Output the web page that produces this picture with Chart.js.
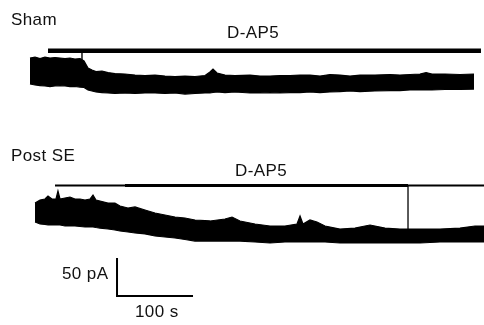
<!DOCTYPE html>
<html>
<head>
<meta charset="utf-8">
<script src="https://cdn.jsdelivr.net/npm/chart.js@4/dist/chart.umd.min.js"></script>
<style>
  body { margin: 0; background: #fff; }
  #wrap { position: relative; width: 484px; height: 325px; overflow: hidden; }
  #traces { position: absolute; left: 0; top: 0; }
  .lbl {
    position: absolute;
    font-family: "Liberation Sans", Arial, Helvetica, sans-serif;
    font-size: 17px;
    line-height: 17px;
    letter-spacing: 0.4px;
    color: #111;
    white-space: nowrap;
  }
</style>
</head>
<body>
<div id="wrap">
  <canvas id="traces" width="484" height="325"></canvas>
  <div class="lbl" style="left:11px; top:11px;">Sham</div>
  <div class="lbl" style="left:227px; top:24px;">D-AP5</div>
  <div class="lbl" style="left:11px; top:147px;">Post SE</div>
  <div class="lbl" style="left:235px; top:162px;">D-AP5</div>
  <div class="lbl" style="left:62px; top:265px;">50 pA</div>
  <div class="lbl" style="left:135px; top:303px;">100 s</div>
</div>
<script>
// holding current traces, envelope of the noisy band (time in s, current in pA re. baseline)
const shamTime = [0, 6.6, 13.2, 19.7, 26.3, 32.9, 39.5, 46.1, 52.6, 59.2, 65.8, 71.1, 76.3, 81.6, 86.8, 94.7, 102.6, 111.8, 125, 138.2,
  151.3, 164.5, 177.6, 190.8, 203.9, 217.1, 230.3, 236.8, 240.8, 246.1, 256.6, 269.7, 289.5, 302.6, 315.8, 328.9, 342.1, 355.3, 368.4, 381.6,
  394.7, 407.9, 421.1, 434.2, 453.9, 473.7, 486.8, 500, 513.2, 521.1, 528.9, 546.1, 565.8, 584.2];
const shamUpper = [17.1, 18.4, 16.4, 18.4, 17.1, 17.8, 17.1, 16.4, 17.1, 15.8, 16.4, 13.2, 3.9, 1.3, -0.7, 0, -2.0, -3.3, -3.9, -5.3,
  -5.9, -5.3, -6.6, -7.2, -6.6, -7.2, -5.9, -1.3, 2.6, -2.6, -5.3, -5.9, -5.3, -6.6, -6.6, -5.9, -5.9, -5.3, -5.3, -6.6,
  -4.6, -5.3, -6.6, -5.3, -5.3, -4.6, -5.3, -4.6, -3.9, -2.0, -3.9, -3.9, -4.6, -3.9];
const shamLower = [-17.1, -18.4, -19.1, -19.7, -20.4, -19.7, -19.1, -19.7, -20.4, -20.4, -21.1, -21.7, -25.0, -26.3, -27.6, -28.3, -28.9, -29.6, -28.9, -29.6,
  -28.9, -28.9, -29.6, -28.9, -30.3, -29.6, -28.9, -28.9, -28.3, -27.6, -28.3, -27.6, -28.9, -28.9, -28.3, -28.9, -28.3, -28.3, -27.6, -28.3,
  -27.6, -27.0, -26.3, -27.0, -26.3, -25.7, -25.7, -25.0, -25.0, -25.0, -25.0, -24.3, -24.3, -23.7];

const postTime = [6.6, 13.2, 19.7, 23.7, 28.9, 34.2, 36.8, 39.5, 46.1, 52.6, 59.2, 65.8, 72.4, 78.9, 82.9, 86.8, 92.1, 102.6, 111.8, 118.4,
  128.9, 138.2, 151.3, 164.5, 177.6, 190.8, 203.9, 217.1, 236.8, 256.6, 265.8, 276.3, 296.1, 315.8, 335.5, 351.3, 355.3, 359.2, 368.4, 377.6,
  388.2, 407.9, 427.6, 440.8, 447.4, 467.1, 486.8, 513.2, 539.5, 565.8, 585.5, 597.4];
const postUpper = [11.8, 15.8, 17.1, 21.1, 17.1, 17.1, 27.6, 17.1, 18.4, 19.7, 17.1, 17.1, 15.8, 17.1, 22.4, 15.8, 14.5, 11.8, 11.8, 7.9,
  5.3, 6.6, 2.6, -1.3, -3.9, -6.6, -7.9, -10.5, -11.8, -9.2, -6.6, -11.8, -15.8, -18.4, -18.4, -15.8, -5.3, -15.8, -10.5, -13.2,
  -18.4, -22.4, -21.1, -18.4, -17.1, -21.1, -22.4, -22.4, -22.4, -21.1, -18.4, -18.4];
const postLower = [-13.2, -15.8, -16.4, -17.1, -17.1, -17.1, -17.1, -17.1, -18.4, -18.4, -18.4, -19.1, -19.7, -19.7, -19.7, -20.4, -21.1, -22.4, -23.7, -25.0,
  -26.3, -27.6, -28.9, -31.6, -32.9, -34.2, -36.2, -38.2, -38.2, -38.2, -38.2, -38.2, -39.5, -40.8, -39.5, -39.5, -39.5, -39.5, -39.5, -39.5,
  -39.5, -40.8, -40.8, -40.8, -40.8, -40.8, -40.8, -40.8, -39.5, -39.5, -39.5, -39.5];

// D-AP5 application bars [start, end] s and level pA
const shamDrug = [23.7, 593.4];
const shamDrugLevel = 26.6;
const postDrug = [32.9, 597.4];
const postDrugThick = [125, 497.4];
const postDrugLevel = 34.8;

// artifacts (time, from, to)
const shamArtifact = [68.4, 23.7, 14.5];
const postArtifact = [497.4, 34.2, -22.4];

// scale bar: origin (s, pA) and lengths
const scaleOrigin = [114.5, -110.5];
const scaleLen = [100, 50];

// vertical offset between the two traces (pA)
const SHAM_OFFSET = 185.5;

function pts(time, vals, off) {
  return time.map((t, i) => ({ x: t, y: vals[i] + off }));
}
function seg(x0, x1, y) {
  return [{ x: x0, y: y }, { x: x1, y: y }];
}

const base = { showLine: true, pointRadius: 0, tension: 0, borderColor: "#000", fill: false };

const datasets = [
  Object.assign({}, base, { data: pts(shamTime, shamUpper, SHAM_OFFSET), borderWidth: 1.2, fill: "+1", backgroundColor: "#000" }),
  Object.assign({}, base, { data: pts(shamTime, shamLower, SHAM_OFFSET), borderWidth: 1.2 }),
  Object.assign({}, base, { data: pts(postTime, postUpper, 0), borderWidth: 1.2, fill: "+1", backgroundColor: "#000" }),
  Object.assign({}, base, { data: pts(postTime, postLower, 0), borderWidth: 1.2 }),
  Object.assign({}, base, { data: seg(shamDrug[0], shamDrug[1], shamDrugLevel + SHAM_OFFSET), borderWidth: 4.5 }),
  Object.assign({}, base, { data: seg(postDrug[0], postDrug[1], postDrugLevel), borderWidth: 2 }),
  Object.assign({}, base, { data: seg(postDrugThick[0], postDrugThick[1], postDrugLevel), borderWidth: 3 }),
  Object.assign({}, base, {
    data: [{ x: shamArtifact[0], y: shamArtifact[1] + SHAM_OFFSET }, { x: shamArtifact[0], y: shamArtifact[2] + SHAM_OFFSET }],
    borderWidth: 1, borderColor: "#333"
  }),
  Object.assign({}, base, {
    data: [{ x: postArtifact[0], y: postArtifact[1] }, { x: postArtifact[0], y: postArtifact[2] }],
    borderWidth: 1, borderColor: "#444"
  }),
  Object.assign({}, base, {
    data: [
      { x: scaleOrigin[0], y: scaleOrigin[1] + scaleLen[1] },
      { x: scaleOrigin[0], y: scaleOrigin[1] },
      { x: scaleOrigin[0] + scaleLen[0], y: scaleOrigin[1] }
    ],
    borderWidth: 2, borderCapStyle: "butt", borderJoinStyle: "miter"
  })
];

const ctx = document.getElementById("traces").getContext("2d");
new Chart(ctx, {
  type: "scatter",
  data: { datasets: datasets },
  options: {
    responsive: false,
    animation: false,
    devicePixelRatio: 1,
    layout: { padding: 0 },
    plugins: { legend: { display: false }, tooltip: { enabled: false } },
    scales: {
      x: { type: "linear", display: false, min: -39.47, max: 597.37 },
      y: { type: "linear", display: false, min: -148.68, max: 278.95 }
    }
  }
});
</script>
</body>
</html>
